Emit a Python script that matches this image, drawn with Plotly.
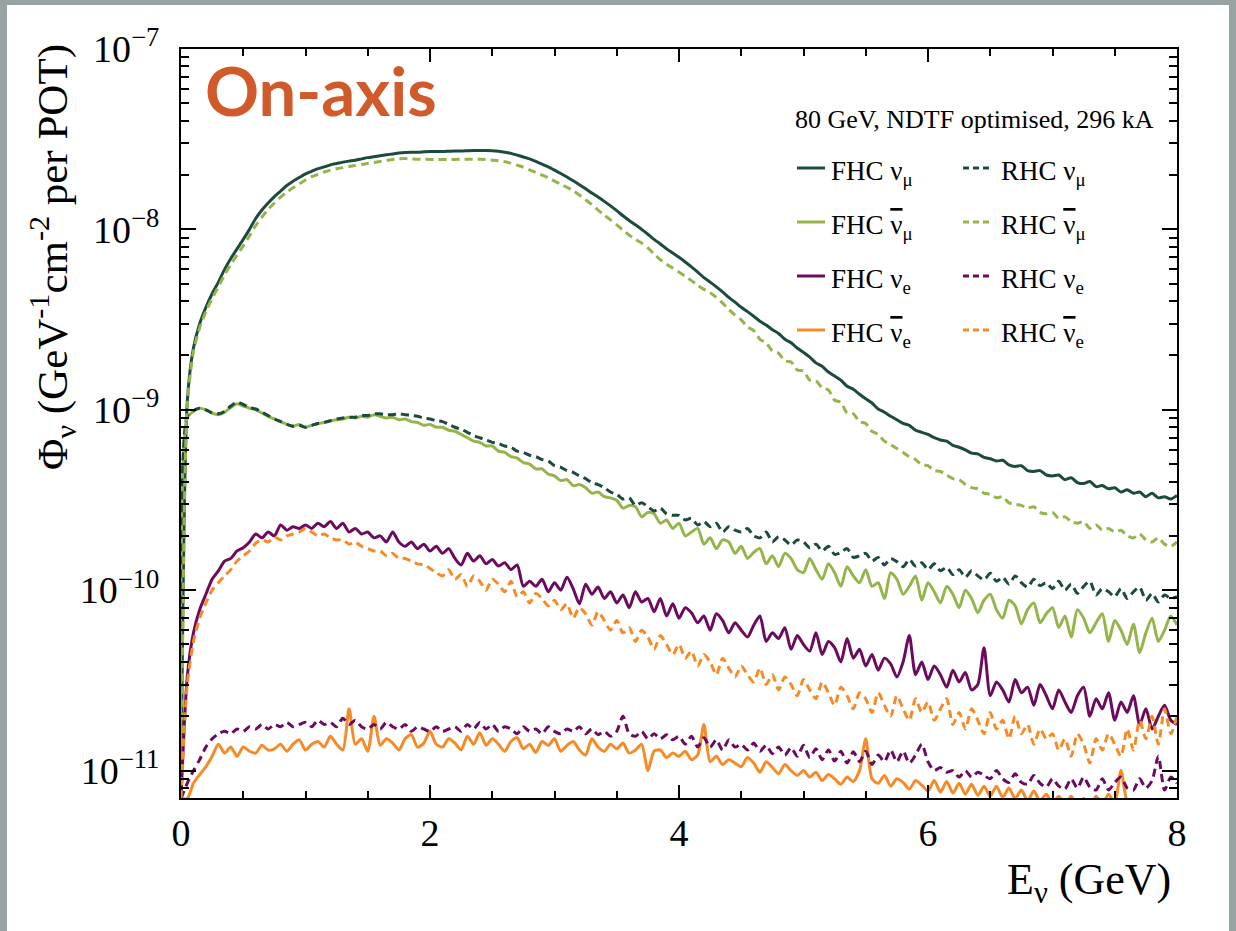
import plotly.graph_objects as go

# ---------------- data (flux in units of 1e-10 per GeV cm^2 POT) ----------------
FLUX_UNIT = 1e-10
ENERGY_GEV = [round(i * 0.05, 2) for i in range(161)]  # bin grid 0 .. 8 GeV

FHC_NUMU = [
    0.07, 11, 22, 30, 37, 44, 51, 60, 69, 78,
    88, 100, 115, 128, 140, 152, 163, 175, 185, 194,
    203, 210, 217, 222, 228, 232, 236, 239, 242, 246,
    250, 253, 256, 259, 262, 265, 267, 268, 268, 269,
    270, 270, 270, 271, 272, 272, 273, 274, 274, 274,
    273, 271, 268, 264, 258, 252, 246, 238, 230, 222,
    213, 204, 195, 186, 177, 168, 159, 151, 143, 135,
    127, 119, 112, 106, 100, 94, 88, 83, 78, 74,
    70, 66, 62, 58, 54, 51, 48, 45, 42, 39.5,
    37, 35, 33, 31, 29.5, 27.8, 26.5, 24.6, 23.5, 22,
    20.8, 19.6, 18.2, 17.4, 16.2, 15.4, 14.6, 13.5, 13.0, 12.2,
    11.5, 10.9, 10.1, 9.7, 9.2, 8.8, 8.4, 8.2, 7.7, 7.5,
    7.3, 7.0, 6.8, 6.7, 6.35, 6.2, 6.0, 5.75, 5.7, 5.45,
    5.35, 5.2, 5.25, 4.95, 4.85, 4.9, 4.6, 4.55, 4.6, 4.35,
    4.3, 4.35, 4.1, 4.2, 3.95, 3.9, 4.0, 3.75, 3.8, 3.65,
    3.7, 3.5, 3.6, 3.45, 3.5, 3.3, 3.45, 3.25, 3.3, 3.2,
    3.35,
]

FHC_NUMUBAR = [
    0.07, 9.0, 9.8, 10.2, 10.0, 9.6, 9.4, 9.7, 10.3, 10.8,
    10.5, 10.2, 10.0, 9.6, 9.2, 8.9, 8.6, 8.3, 8.1, 8.3,
    8.0, 8.2, 8.4, 8.5, 8.7, 8.8, 8.9, 9.1, 9.0, 9.2,
    9.1, 9.4, 9.2, 9.0, 9.1, 8.8, 8.9, 8.6, 8.5, 8.2,
    8.3, 8.0, 8.0, 7.7, 7.6, 7.3, 7.0, 6.7, 6.6, 6.3,
    6.3, 5.9, 5.8, 5.5, 5.4, 5.1, 5.0, 4.7, 4.7, 4.4,
    4.3, 4.05, 4.1, 3.8, 3.85, 3.7, 3.45, 3.5, 3.3, 3.25,
    3.15, 2.85, 2.95, 2.9, 2.55, 2.7, 2.65, 2.35, 2.45, 2.2,
    2.35, 2.0, 2.1, 2.2, 1.8, 1.95, 1.7, 1.9, 1.85, 1.6,
    1.75, 1.5, 1.62, 1.7, 1.4, 1.55, 1.35, 1.6, 1.5, 1.3,
    1.25, 1.5, 1.3, 1.15, 1.4, 1.25, 1.05, 1.35, 1.2, 1.1,
    1.3, 1.05, 1.1, 0.9, 1.25, 1.15, 0.95, 1.05, 1.2, 0.88,
    1.1, 0.98, 0.85, 1.05, 0.95, 0.8, 1.0, 0.9, 0.75, 0.88,
    0.95, 0.78, 0.7, 0.88, 0.82, 0.65, 0.78, 0.85, 0.66, 0.74,
    0.8, 0.62, 0.72, 0.55, 0.78, 0.7, 0.58, 0.66, 0.74, 0.52,
    0.68, 0.6, 0.5, 0.65, 0.45, 0.58, 0.7, 0.52, 0.6, 0.72,
    0.64,
]

FHC_NUE = [
    0.07, 0.33, 0.58, 0.78, 0.95, 1.15, 1.28, 1.45, 1.5, 1.65,
    1.72, 1.85, 2.05, 1.95, 2.1, 2.0, 2.3, 2.15, 2.25, 2.2,
    2.3, 2.2, 2.35, 2.25, 2.4, 2.2, 2.35, 2.1, 2.2, 2.05,
    2.1, 1.95, 2.0, 1.85, 2.1, 1.85, 1.75, 1.85, 1.7, 1.8,
    1.65, 1.75, 1.6, 1.7, 1.5, 1.38, 1.6, 1.45, 1.55, 1.4,
    1.48, 1.36, 1.42, 1.3, 1.38, 1.05, 1.12, 1.05, 1.15, 0.98,
    1.1, 1.0, 1.18, 1.02, 0.84, 1.08, 0.95, 1.04, 0.9, 0.98,
    0.85, 0.94, 0.8, 0.98, 0.86, 0.9, 0.76, 0.9, 0.72, 0.84,
    0.7, 0.8, 0.75, 0.66, 0.72, 0.6, 0.74, 0.68, 0.58, 0.66,
    0.6, 0.55, 0.64, 0.72, 0.52, 0.58, 0.54, 0.62, 0.47, 0.56,
    0.5, 0.46, 0.58, 0.44, 0.52, 0.48, 0.4, 0.54, 0.42, 0.47,
    0.38, 0.44, 0.36, 0.42, 0.39, 0.33, 0.4, 0.56, 0.34, 0.4,
    0.32, 0.38, 0.34, 0.29, 0.36, 0.31, 0.35, 0.28, 0.3, 0.48,
    0.26, 0.31, 0.28, 0.24, 0.32, 0.27, 0.29, 0.23, 0.3, 0.26,
    0.22, 0.28, 0.24, 0.21, 0.26, 0.29, 0.2, 0.25, 0.22, 0.27,
    0.19, 0.24, 0.21, 0.26, 0.18, 0.22, 0.17, 0.2, 0.23, 0.19,
    0.18,
]

FHC_NUEBAR = [
    0.07, 0.07, 0.085, 0.095, 0.105, 0.12, 0.14, 0.125, 0.135, 0.12,
    0.135, 0.128, 0.125, 0.138, 0.13, 0.132, 0.14, 0.128, 0.14, 0.148,
    0.13, 0.14, 0.145, 0.135, 0.155, 0.14, 0.13, 0.22, 0.14, 0.15,
    0.128, 0.2, 0.138, 0.15, 0.142, 0.13, 0.15, 0.158, 0.135, 0.142,
    0.165, 0.14, 0.135, 0.15, 0.142, 0.13, 0.155, 0.14, 0.162, 0.138,
    0.15, 0.14, 0.128, 0.145, 0.152, 0.132, 0.14, 0.126, 0.145, 0.138,
    0.15, 0.128, 0.138, 0.145, 0.13, 0.122, 0.15, 0.135, 0.128, 0.14,
    0.132, 0.142, 0.125, 0.13, 0.14, 0.1, 0.128, 0.13, 0.118, 0.125,
    0.12, 0.128, 0.115, 0.122, 0.18, 0.112, 0.12, 0.108, 0.115, 0.11,
    0.105, 0.118, 0.11, 0.098, 0.112, 0.104, 0.096, 0.108, 0.1, 0.094,
    0.1, 0.092, 0.098, 0.088, 0.095, 0.09, 0.084, 0.092, 0.087, 0.1,
    0.15, 0.09, 0.085, 0.094, 0.082, 0.09, 0.086, 0.079, 0.088, 0.083,
    0.077, 0.088, 0.076, 0.087, 0.075, 0.085, 0.074, 0.084, 0.073, 0.082,
    0.072, 0.082, 0.071, 0.08, 0.07, 0.078, 0.068, 0.077, 0.068, 0.074,
    0.066, 0.072, 0.065, 0.072, 0.064, 0.07, 0.064, 0.072, 0.065, 0.074,
    0.066, 0.1, 0.068, 0.066, 0.065, 0.068, 0.065, 0.066, 0.065, 0.066,
    0.065,
]

RHC_NUMU = [
    0.07, 9.2, 9.9, 10.2, 10.0, 9.6, 9.5, 9.8, 10.5, 11.0,
    10.7, 10.3, 10.1, 9.7, 9.3, 8.9, 8.6, 8.3, 8.1, 8.2,
    8.0, 8.2, 8.4, 8.5, 8.7, 8.9, 9.0, 9.1, 9.1, 9.3,
    9.3, 9.5, 9.5, 9.4, 9.4, 9.5, 9.4, 9.3, 9.2, 9.0,
    8.9, 8.7, 8.6, 8.3, 8.0, 7.8, 7.5, 7.2, 7.0, 6.8,
    6.6, 6.5, 6.3, 6.2, 5.9, 5.8, 5.6, 5.5, 5.3, 5.2,
    4.9, 4.8, 4.6, 4.5, 4.3, 4.15, 3.95, 3.85, 3.7, 3.5,
    3.4, 3.2, 3.25, 2.95, 3.05, 2.9, 2.75, 2.85, 2.65, 2.6,
    2.6, 2.45, 2.5, 2.3, 2.4, 2.25, 2.35, 2.1, 2.25, 2.15,
    2.1, 2.2, 2.0, 1.95, 2.1, 1.85, 1.98, 1.9, 1.78, 1.9,
    1.85, 1.72, 1.8, 1.65, 1.75, 1.58, 1.62, 1.7, 1.52, 1.55,
    1.6, 1.45, 1.52, 1.38, 1.5, 1.44, 1.35, 1.48, 1.36, 1.42,
    1.3, 1.4, 1.28, 1.34, 1.22, 1.3, 1.18, 1.28, 1.2, 1.14,
    1.24, 1.12, 1.18, 1.08, 1.2, 1.1, 1.04, 1.15, 1.06, 1.1,
    1.02, 1.12, 1.0, 1.08, 0.96, 1.05, 1.12, 0.94, 1.02, 0.98,
    0.92, 1.02, 0.9, 0.98, 1.04, 0.88, 0.96, 0.86, 0.94, 0.9,
    0.92,
]

RHC_NUMUBAR = [
    0.07, 10.5, 21, 28.5, 35, 41.5, 48, 56, 64, 72,
    81, 92, 105, 117, 129, 140, 151, 161, 170, 179,
    188, 196, 202, 208, 213, 217, 220, 223, 226, 229,
    232, 235, 238, 241, 244, 246, 247, 246, 245, 245,
    244, 244, 244, 244, 244, 245, 245, 245, 245, 244,
    242, 240, 237, 233, 227, 221, 214, 207, 200, 193,
    185, 178, 171, 164, 155, 146, 137, 128, 120, 113,
    106, 99, 93, 88, 84, 79, 73, 68, 64, 61,
    58, 55, 52, 49, 46.5, 44.5, 42, 39, 36, 33.5,
    31.5, 28.8, 27.5, 24.6, 23.5, 21.2, 20.6, 18.7, 18.4, 16.6,
    16.4, 14.6, 14.5, 13.2, 12.9, 11.3, 11.0, 9.6, 9.5, 8.6,
    8.4, 7.6, 7.3, 6.7, 6.4, 6.1, 5.8, 5.5, 5.3, 4.95,
    4.9, 4.6, 4.55, 4.35, 4.15, 4.1, 3.85, 3.7, 3.65, 3.45,
    3.4, 3.25, 3.3, 3.05, 3.0, 2.95, 2.85, 2.9, 2.7, 2.65,
    2.7, 2.5, 2.55, 2.4, 2.35, 2.4, 2.2, 2.3, 2.15, 2.2,
    2.1, 2.15, 2.0, 1.95, 2.05, 1.9, 1.85, 1.95, 1.8, 1.75,
    1.85,
]

RHC_NUE = [
    0.07, 0.085, 0.1, 0.115, 0.135, 0.15, 0.16, 0.165, 0.16, 0.17,
    0.165, 0.175, 0.17, 0.18, 0.17, 0.18, 0.175, 0.185, 0.175, 0.18,
    0.185, 0.175, 0.19, 0.18, 0.185, 0.175, 0.195, 0.18, 0.19, 0.175,
    0.17, 0.18, 0.17, 0.185, 0.175, 0.17, 0.18, 0.165, 0.175, 0.17,
    0.165, 0.175, 0.165, 0.17, 0.175, 0.165, 0.18, 0.17, 0.185, 0.17,
    0.18, 0.165, 0.175, 0.17, 0.16, 0.175, 0.165, 0.17, 0.16, 0.175,
    0.165, 0.16, 0.17, 0.165, 0.175, 0.16, 0.17, 0.158, 0.165, 0.155,
    0.165, 0.2, 0.16, 0.155, 0.165, 0.15, 0.16, 0.15, 0.158, 0.148,
    0.155, 0.14, 0.155, 0.135, 0.152, 0.135, 0.148, 0.13, 0.148, 0.135,
    0.14, 0.13, 0.142, 0.128, 0.138, 0.124, 0.135, 0.122, 0.134, 0.12,
    0.138, 0.118, 0.132, 0.115, 0.13, 0.113, 0.128, 0.11, 0.127, 0.112,
    0.128, 0.108, 0.122, 0.112, 0.13, 0.112, 0.128, 0.11, 0.122, 0.14,
    0.112, 0.1, 0.104, 0.098, 0.1, 0.092, 0.1, 0.092, 0.098, 0.094,
    0.09, 0.1, 0.09, 0.086, 0.096, 0.086, 0.084, 0.094, 0.085, 0.081,
    0.09, 0.082, 0.079, 0.09, 0.08, 0.092, 0.081, 0.078, 0.09, 0.078,
    0.086, 0.092, 0.08, 0.078, 0.09, 0.08, 0.088, 0.12, 0.078, 0.092,
    0.085,
]

RHC_NUEBAR = [
    0.07, 0.3, 0.52, 0.7, 0.85, 1.0, 1.1, 1.2, 1.3, 1.45,
    1.55, 1.65, 1.82, 1.9, 1.85, 1.97, 1.9, 2.0, 2.05, 2.1,
    2.2, 2.1, 2.0, 2.05, 1.95, 1.9, 1.9, 1.8, 1.85, 1.75,
    1.7, 1.65, 1.65, 1.55, 1.6, 1.5, 1.5, 1.45, 1.4, 1.38,
    1.32, 1.25, 1.2, 1.3, 1.15, 1.22, 1.05, 1.2, 1.12, 1.0,
    1.15, 1.08, 0.98, 1.12, 0.92, 0.98, 0.85, 0.96, 0.9, 0.82,
    0.88, 0.78, 0.84, 0.7, 0.8, 0.74, 0.64, 0.76, 0.68, 0.6,
    0.68, 0.58, 0.62, 0.52, 0.6, 0.55, 0.47, 0.56, 0.5, 0.44,
    0.5, 0.42, 0.46, 0.38, 0.44, 0.4, 0.34, 0.42, 0.37, 0.33,
    0.38, 0.34, 0.31, 0.37, 0.3, 0.34, 0.28, 0.33, 0.3, 0.26,
    0.32, 0.28, 0.25, 0.31, 0.27, 0.23, 0.29, 0.26, 0.22, 0.27,
    0.25, 0.21, 0.27, 0.23, 0.2, 0.26, 0.22, 0.19, 0.25, 0.21,
    0.24, 0.19, 0.22, 0.25, 0.18, 0.21, 0.17, 0.22, 0.19, 0.16,
    0.21, 0.17, 0.19, 0.15, 0.2, 0.16, 0.18, 0.14, 0.17, 0.15,
    0.16, 0.13, 0.15, 0.12, 0.16, 0.14, 0.11, 0.15, 0.13, 0.16,
    0.14, 0.12, 0.17, 0.13, 0.19, 0.15, 0.2, 0.14, 0.22, 0.16,
    0.2,
]

Y_TICK_VALS = [1e-11, 1e-10, 1e-9, 1e-8, 1e-7]
Y_TICK_TEXT = ["10<sup>\u221211</sup>", "10<sup>\u221210</sup>", "10<sup>\u22129</sup>",
               "10<sup>\u22128</sup>", "10<sup>\u22127</sup>"]
X_TICK_VALS = [0, 2, 4, 6, 8]

# ---------------- styling ----------------
DARK_GREEN = "#1b4b3d"
LIGHT_GREEN = "#95b44b"
PURPLE = "#6c0b5d"
ORANGE = "#f68a26"
SERIF = "Liberation Serif"
DASH = "8px,5px"
NUBAR = "<span style='text-decoration:overline'>\u03bd</span>"

series = [
    ("FHC \u03bd<sub>\u03bc</sub>", FHC_NUMU, DARK_GREEN, "solid"),
    ("FHC " + NUBAR + "<sub>\u03bc</sub>", FHC_NUMUBAR, LIGHT_GREEN, "solid"),
    ("FHC \u03bd<sub>e</sub>", FHC_NUE, PURPLE, "solid"),
    ("FHC " + NUBAR + "<sub>e</sub>", FHC_NUEBAR, ORANGE, "solid"),
    ("RHC \u03bd<sub>\u03bc</sub>", RHC_NUMU, DARK_GREEN, DASH),
    ("RHC " + NUBAR + "<sub>\u03bc</sub>", RHC_NUMUBAR, LIGHT_GREEN, DASH),
    ("RHC \u03bd<sub>e</sub>", RHC_NUE, PURPLE, DASH),
    ("RHC " + NUBAR + "<sub>e</sub>", RHC_NUEBAR, ORANGE, DASH),
]

fig = go.Figure()
for name, vals, color, dash in series:
    fig.add_trace(go.Scatter(
        x=ENERGY_GEV, y=[v * FLUX_UNIT for v in vals], mode="lines", name=name,
        line=dict(color=color, width=3, dash=dash, shape="spline", smoothing=0.7),
        showlegend=False, hoverinfo="skip",
    ))

# plot-area pixel geometry
L, R, T, B = 181, 1177, 49, 798
W, H = 1236, 931


def px(xp):
    return (xp - L) / (R - L)


def py(yp):
    return (B - yp) / (B - T)


minor_y = [k * 10.0 ** e for e in range(-12, -7) for k in range(2, 10)]

fig.update_layout(
    width=W, height=H,
    margin=dict(l=L, r=W - R, t=T, b=H - B, pad=0),
    paper_bgcolor="#98a4a4", plot_bgcolor="white",
    font=dict(family=SERIF, color="black"),
    xaxis=dict(
        range=[0, 8], showline=True, linecolor="black", linewidth=2, mirror="ticks",
        ticks="inside", ticklen=13, tickwidth=2, tickcolor="black",
        tickvals=X_TICK_VALS, ticktext=[str(v) for v in X_TICK_VALS],
        tickfont=dict(family=SERIF, size=38), ticklabelstandoff=0,
        showgrid=False, zeroline=False,
        minor=dict(ticks="inside", ticklen=7, tickwidth=2, tickcolor="black",
                   tick0=0, dtick=0.5, showgrid=False),
    ),
    yaxis=dict(
        type="log", range=[-11.152, -7], showline=True, linecolor="black", linewidth=2,
        mirror="ticks", ticks="inside", ticklen=15, tickwidth=2, tickcolor="black",
        tickvals=Y_TICK_VALS, ticktext=Y_TICK_TEXT,
        tickfont=dict(family=SERIF, size=38), ticklabelstandoff=12,
        showgrid=False, zeroline=False,
        minor=dict(ticks="inside", ticklen=8, tickwidth=2, tickcolor="black",
                   tickvals=minor_y, showgrid=False),
    ),
)

shapes = [dict(type="rect", xref="paper", yref="paper", layer="below",
               x0=px(7), x1=px(1229), y0=py(940), y1=py(5),
               fillcolor="white", line=dict(width=0))]

annotations = [
    dict(text="<b>On-axis</b>", x=px(203), y=py(90), xanchor="left", yanchor="middle",
         font=dict(family="Lato", size=67, color="#d05a2a")),
    dict(text="80 GeV, NDTF optimised, 296 kA", x=px(793), y=py(119), xanchor="left",
         yanchor="middle", font=dict(family=SERIF, size=26)),
    dict(text="\u03a6<sub>\u03bd</sub> (GeV<sup>-1</sup>cm<sup>-2</sup> per POT)",
         x=px(52), y=py(42), xanchor="center", yanchor="top", textangle=-90,
         font=dict(family=SERIF, size=43)),
    dict(text="E<sub>\u03bd</sub> (GeV)", x=px(1173), y=py(882), xanchor="right",
         yanchor="middle", font=dict(family=SERIF, size=44)),
]

rows_y = [168, 222, 276, 330]
for i, (name, vals, color, dash) in enumerate(series):
    col = i // 4
    row = i % 4
    yline = rows_y[row]
    lx0, lx1, tx = (797, 825, 829) if col == 0 else (963, 991, 999)
    shapes.append(dict(type="line", xref="paper", yref="paper",
                       x0=px(lx0), x1=px(lx1), y0=py(yline), y1=py(yline),
                       line=dict(color=color, width=3,
                                 dash="solid" if dash == "solid" else "6px,4px")))
    annotations.append(dict(text=name, x=px(tx), y=py(yline + 5), xanchor="left",
                            yanchor="middle", font=dict(family=SERIF, size=27)))

for a in annotations:
    a.update(xref="paper", yref="paper", showarrow=False)

fig.update_layout(shapes=shapes, annotations=annotations)
fig.write_html("out.html")
